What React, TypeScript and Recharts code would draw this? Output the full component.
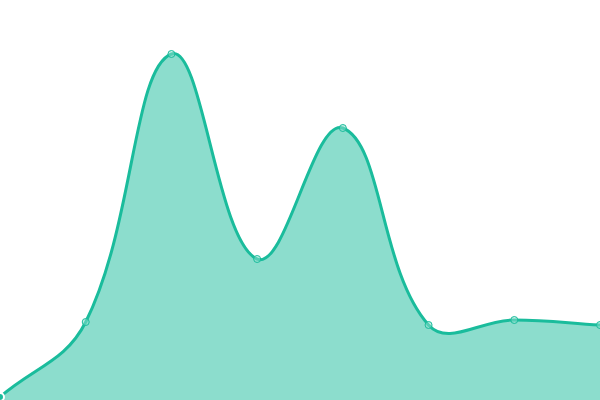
import { AreaChart, Area, XAxis, YAxis } from 'recharts'

const labels = ['A', 'B', 'C', 'D', 'E', 'F', 'G', 'H']
const values = [3, 78, 346, 141, 272, 75, 80, 75]

const data = labels.map((name, i) => ({ name, value: values[i] }))

// spline with tension, same control point rule as a Chart.js line
const TENSION = 0.4

function splineCurve(context: any) {
  let pts: [number, number][] = []
  let line = NaN

  const draw = () => {
    const n = pts.length
    if (!n) return
    if (line) context.lineTo(pts[0][0], pts[0][1])
    else context.moveTo(pts[0][0], pts[0][1])
    const cps = pts.map((cur, i) => {
      const prev = pts[Math.max(i - 1, 0)]
      const next = pts[Math.min(i + 1, n - 1)]
      const d01 = Math.hypot(cur[0] - prev[0], cur[1] - prev[1])
      const d12 = Math.hypot(next[0] - cur[0], next[1] - cur[1])
      let s01 = d01 / (d01 + d12)
      let s12 = d12 / (d01 + d12)
      if (isNaN(s01)) s01 = 0
      if (isNaN(s12)) s12 = 0
      const fa = TENSION * s01
      const fb = TENSION * s12
      return {
        px: cur[0] - fa * (next[0] - prev[0]),
        py: cur[1] - fa * (next[1] - prev[1]),
        nx: cur[0] + fb * (next[0] - prev[0]),
        ny: cur[1] + fb * (next[1] - prev[1]),
      }
    })
    for (let i = 1; i < n; i++) {
      context.bezierCurveTo(cps[i - 1].nx, cps[i - 1].ny, cps[i].px, cps[i].py, pts[i][0], pts[i][1])
    }
  }

  return {
    areaStart() {
      line = 0
    },
    areaEnd() {
      line = NaN
    },
    lineStart() {
      pts = []
    },
    lineEnd() {
      draw()
      if (line) context.closePath()
      line = 1 - line
    },
    point(x: number, y: number) {
      pts.push([+x, +y])
    },
  }
}

export default function App() {
  return (
    <div style={{ position: 'fixed', top: 0, left: 0, width: 600, height: 400, background: '#fff' }}>
      <AreaChart width={600} height={400} data={data} margin={{ top: 0, right: 0, bottom: 0, left: 0 }}>
        <XAxis dataKey="name" hide />
        <YAxis hide domain={[0, 400]} />
        <Area
          type={splineCurve as any}
          dataKey="value"
          stroke="#1abc9c"
          strokeWidth={3}
          fill="#1abc9c"
          fillOpacity={0.5}
          dot={{ r: 3.5, fill: '#8cdfcd', stroke: '#1abc9c', strokeWidth: 1 }}
          isAnimationActive={false}
        />
      </AreaChart>
    </div>
  )
}
